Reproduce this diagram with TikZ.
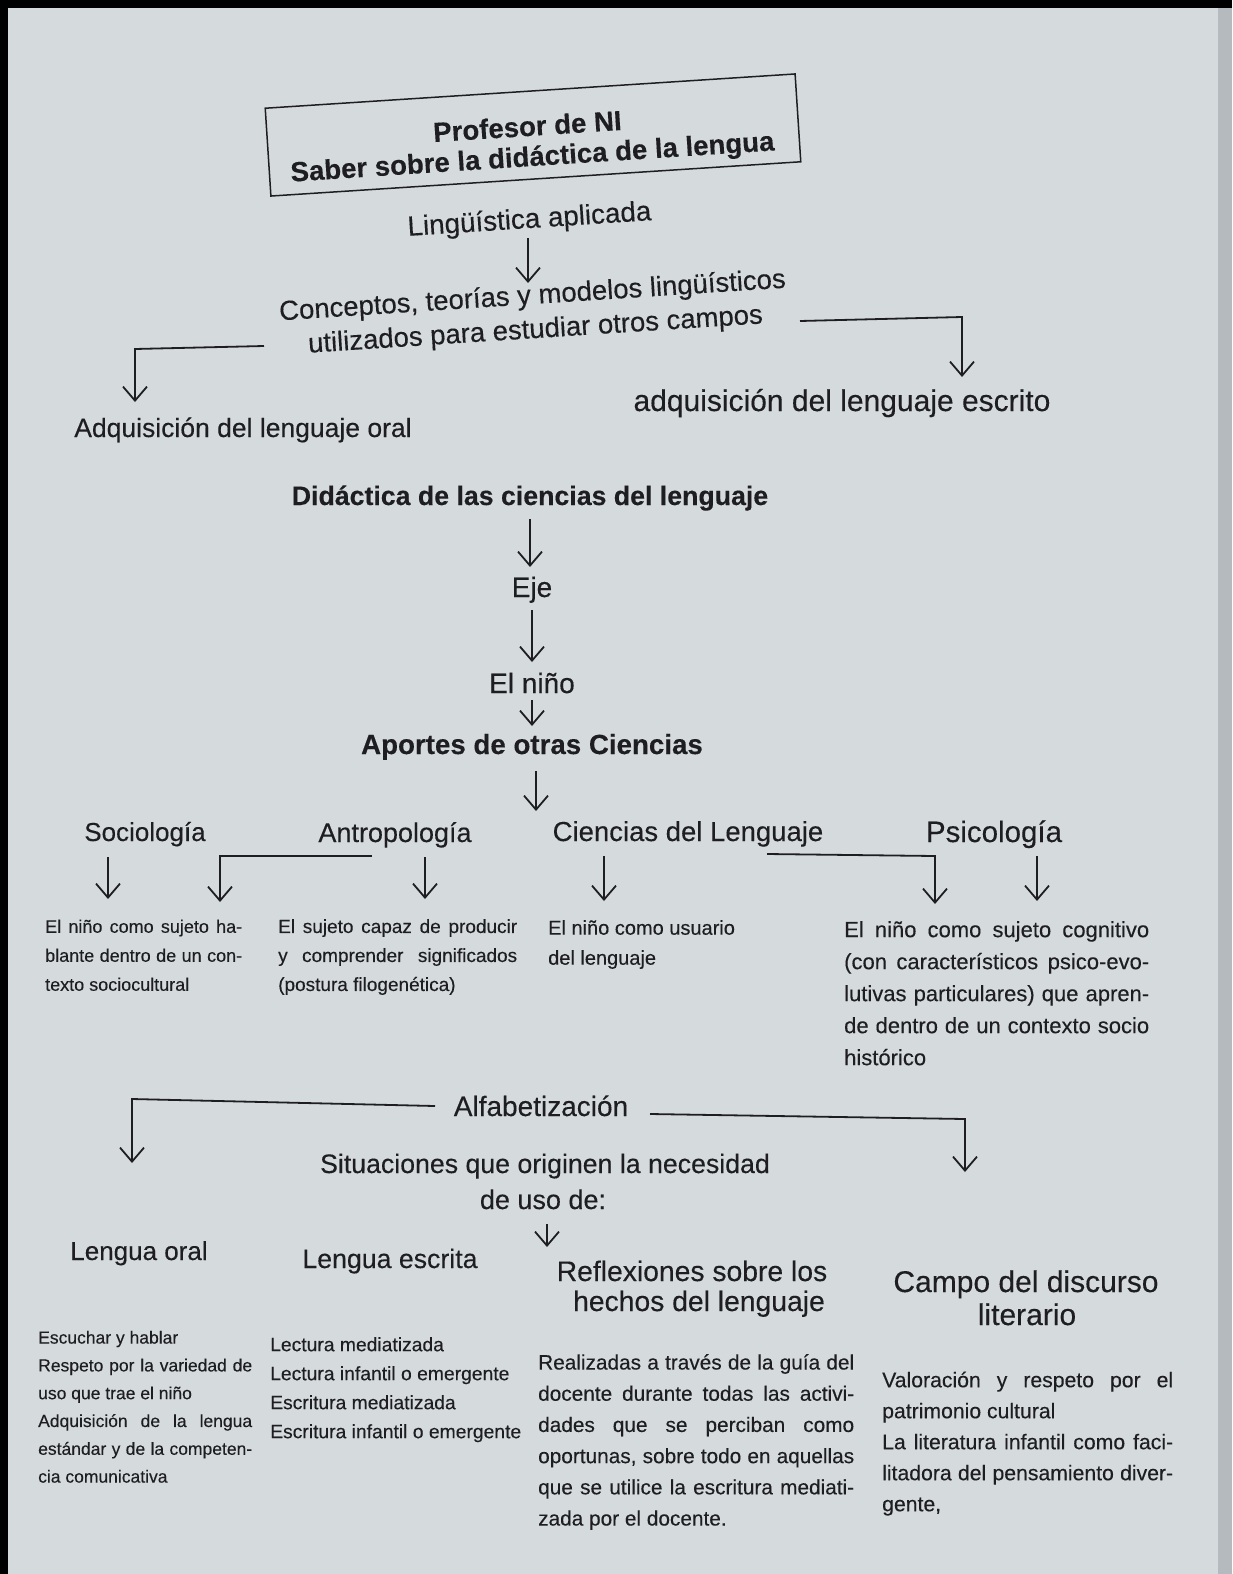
\documentclass[tikz,border=0pt]{standalone}
\usepackage{fontspec}
\setmainfont{Liberation Sans}[FakeBold=0.25]
\usetikzlibrary{arrows.meta}
\definecolor{paper}{RGB}{213,218,221}
\definecolor{ink}{RGB}{30,30,34}
\definecolor{edgegray}{RGB}{180,186,190}
\newcommand{\fsz}[2]{\fontsize{#1pt}{#2pt}\selectfont}
\newcommand{\jl}[2]{\makebox[#1pt][s]{#2}}
\begin{document}
\begin{tikzpicture}[x=1pt,y=-1pt,
  txt/.style={inner sep=0pt, text=ink, anchor=base},
  blk/.style={inner sep=0pt, text=ink, anchor=north west, align=left},
  ln/.style={draw=ink, line width=1.8pt},
  arr/.style={draw=ink, line width=1.8pt, -{Straight Barb[length=14pt,width=24pt]}}]
\useasboundingbox (0,0) rectangle (1232,1574);
\fill[paper] (0,0) rectangle (1232,1574);
\fill[edgegray] (1218,0) rectangle (1232,1574);
\fill[black] (0,0) rectangle (1232,8);
\fill[black] (0,0) rectangle (8,1574);

% ---------- top ----------
\node[draw=ink, line width=1.5pt, rotate=3.7, minimum width=531pt, minimum height=88pt,
      inner sep=0pt] (box) at (533,135) {};
\node[txt, rotate=3.7, font=\bfseries\fsz{27.6}{32}] (prof) at (528,136) {Profesor de NI};
\node[txt, rotate=3.7, font=\bfseries\fsz{27.6}{32}] (saber) at (533,166) {Saber sobre la didáctica de la lengua};
\node[txt, rotate=3.7, font=\fsz{27.8}{32}] (ling) at (530,228) {Lingüística aplicada};
\node[txt, rotate=3.7, font=\fsz{27.5}{32}] (conc1) at (533,304) {Conceptos, teorías y modelos lingüísticos};
\node[txt, rotate=3.7, font=\fsz{27.5}{32}] (conc2) at (536,338) {utilizados para estudiar otros campos};
\node[txt, font=\fsz{30}{34}] (escrito) at (842,411) {adquisición del lenguaje escrito};
\node[txt, font=\fsz{26.5}{32}] (oral) at (243,437) {Adquisición del lenguaje oral};

\coordinate (a1s) at (528,238); \coordinate (a1e) at (528,283);
\draw[arr] (a1s) -- (a1e);
\coordinate (rR0) at (800,321); \coordinate (rR1) at (962,317); \coordinate (rR2) at (962,377);
\draw[arr] (rR0) -- (rR1) -- (rR2);
\coordinate (rL0) at (264,346); \coordinate (rL1) at (135,349); \coordinate (rL2) at (135,402);
\draw[arr] (rL0) -- (rL1) -- (rL2);

% ---------- middle column ----------
\node[txt, font=\bfseries\fsz{26.7}{32}] (didac) at (530,505) {Didáctica de las ciencias del lenguaje};
\node[txt, font=\fsz{28}{32}] (eje) at (532,597) {Eje};
\node[txt, font=\fsz{28}{32}] (nino) at (532,693) {El niño};
\node[txt, font=\bfseries\fsz{27.7}{32}] (aportes) at (532,754) {Aportes de otras Ciencias};
\coordinate (a2s) at (530,519); \coordinate (a2e) at (530,567);
\coordinate (a3s) at (532,610); \coordinate (a3e) at (532,662);
\coordinate (a4s) at (532,700); \coordinate (a4e) at (532,726);
\coordinate (a5s) at (536,771); \coordinate (a5e) at (536,811);
\draw[arr] (a2s) -- (a2e);
\draw[arr] (a3s) -- (a3e);
\draw[arr] (a4s) -- (a4e);
\draw[arr] (a5s) -- (a5e);

% ---------- sciences row ----------
\node[txt, font=\fsz{26}{32}] (soc) at (145,841) {Sociología};
\node[txt, font=\fsz{27}{32}] (antro) at (395,842) {Antropología};
\node[txt, font=\fsz{27.5}{32}] (cien) at (688,841) {Ciencias del Lenguaje};
\node[txt, font=\fsz{29.5}{32}] (psico) at (994,842) {Psicología};

\coordinate (s0) at (108,857); \coordinate (s1) at (108,899);
\draw[arr] (s0) -- (s1);
\coordinate (b0) at (372,856); \coordinate (b1) at (220,856); \coordinate (b2) at (220,902);
\draw[arr] (b0) -- (b1) -- (b2);
\coordinate (t0) at (425,857); \coordinate (t1) at (425,899);
\draw[arr] (t0) -- (t1);
\coordinate (c0) at (604,856); \coordinate (c1) at (604,901);
\draw[arr] (c0) -- (c1);
\coordinate (d0) at (767,854); \coordinate (d1) at (935,856); \coordinate (d2) at (935,904);
\draw[arr] (d0) -- (d1) -- (d2);
\coordinate (p0) at (1037,856); \coordinate (p1) at (1037,901);
\draw[arr] (p0) -- (p1);

\node[blk, font=\fsz{18}{29}] (socT) at (45,919.5)
  {\jl{197}{El niño como sujeto ha-}\\\jl{197}{blante dentro de un con-}\\texto sociocultural};
\node[blk, font=\fsz{19}{29}] (antroT) at (278,919)
  {\jl{239}{El sujeto capaz de producir}\\\jl{239}{y comprender significados}\\(postura filogenética)};
\node[blk, font=\fsz{20}{30}] (cienT) at (548,920)
  {El niño como usuario\\del lenguaje};
\node[blk, font=\fsz{22}{32}] (psicoT) at (844,921)
  {\jl{305}{El niño como sujeto cognitivo}\\\jl{305}{(con característicos psico-evo-}\\\jl{305}{lutivas particulares) que apren-}\\\jl{305}{de dentro de un contexto socio}\\histórico};

% ---------- alfabetizacion ----------
\node[txt, font=\fsz{28}{32}] (alfa) at (541,1116) {Alfabetización};
\coordinate (l0) at (435,1106); \coordinate (l1) at (132,1099); \coordinate (l2) at (132,1163);
\draw[arr] (l0) -- (l1) -- (l2);
\coordinate (r0) at (650,1114); \coordinate (r1) at (965,1119); \coordinate (r2) at (965,1172);
\draw[arr] (r0) -- (r1) -- (r2);
\node[txt, font=\fsz{26.7}{32}] (sit1) at (545,1173) {Situaciones que originen la necesidad};
\node[txt, font=\fsz{27}{32}] (sit2) at (543,1209) {de uso de:};
\coordinate (u0) at (547,1224); \coordinate (u1) at (547,1247);
\draw[arr] (u0) -- (u1);

\node[txt, font=\fsz{26}{32}] (loral) at (139,1260) {Lengua oral};
\node[txt, font=\fsz{26.7}{32}] (lesc) at (390,1268) {Lengua escrita};
\node[txt, font=\fsz{28.3}{32}] (refl1) at (692,1281) {Reflexiones sobre los};
\node[txt, font=\fsz{28.3}{32}] (refl2) at (699,1311) {hechos del lenguaje};
\node[txt, font=\fsz{30}{32}] (campo1) at (1026,1292) {Campo del discurso};
\node[txt, font=\fsz{30}{32}] (campo2) at (1027,1325) {literario};

\node[blk, font=\fsz{17.5}{27.8}] (loralT) at (38,1330.7)
  {Escuchar y hablar\\\jl{214}{Respeto por la variedad de}\\uso que trae el niño\\\jl{214}{Adquisición de la lengua}\\\jl{214}{estándar y de la competen-}\\cia comunicativa};
\node[blk, font=\fsz{19.3}{29}] (lescT) at (270,1337)
  {Lectura mediatizada\\Lectura infantil o emergente\\Escritura mediatizada\\Escritura infantil o emergente};
\node[blk, font=\fsz{20.8}{31.2}] (reflT) at (538,1354)
  {\jl{316}{Realizadas a través de la guía del}\\\jl{316}{docente durante todas las activi-}\\\jl{316}{dades que se perciban como}\\\jl{316}{oportunas, sobre todo en aquellas}\\\jl{316}{que se utilice la escritura mediati-}\\zada por el docente.};
\node[blk, font=\fsz{21.2}{31}] (campoT) at (882,1371.4)
  {\jl{291}{Valoración y respeto por el}\\patrimonio cultural\\\jl{291}{La literatura infantil como faci-}\\\jl{291}{litadora del pensamiento diver-}\\gente,};
\end{tikzpicture}
\end{document}
